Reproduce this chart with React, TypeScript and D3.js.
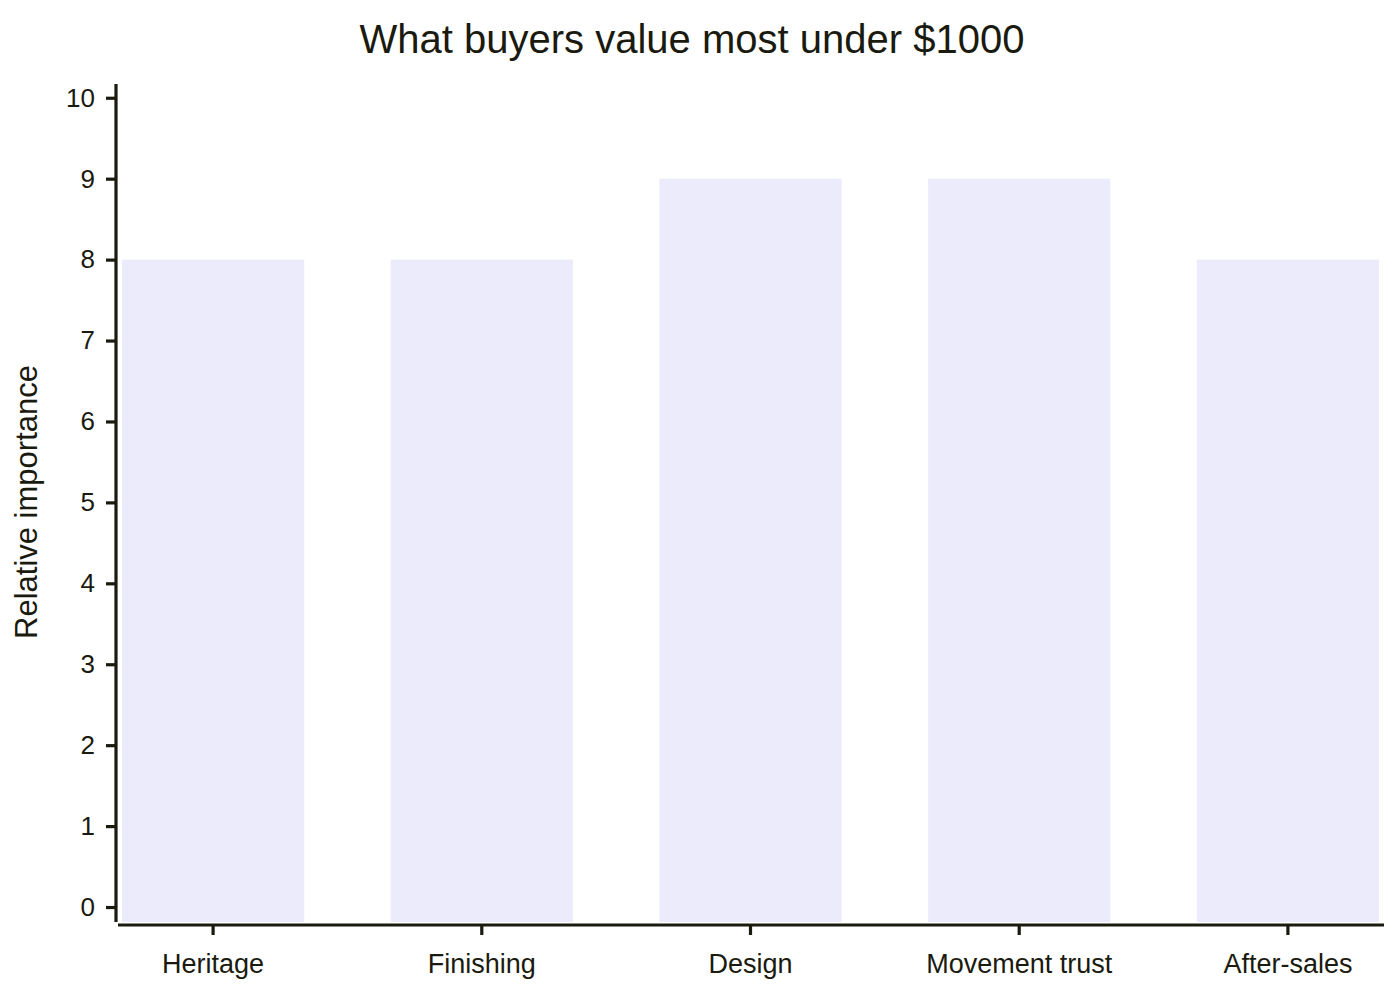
import { useRef, useEffect } from "react";
import * as d3 from "d3";

const categories = ["Heritage", "Finishing", "Design", "Movement trust", "After-sales"];
const importance = [8, 8, 9, 9, 8];
const yTicks = [0, 1, 2, 3, 4, 5, 6, 7, 8, 9, 10];

const INK = "#1a1a0f";
const BAR = "#ebebfb";
const FONT = "'Liberation Sans', Arial, sans-serif";

export default function App() {
  const svgRef = useRef<SVGSVGElement>(null);

  useEffect(() => {
    if (!svgRef.current) return;
    const width = 1400;
    const height = 1000;
    const svg = d3.select(svgRef.current).attr("width", width).attr("height", height);
    svg.selectAll("*").remove();

    // plot area
    const left = 122;
    const right = 1379;
    const top = 84;
    const bottom = 922;

    const x = d3
      .scaleBand<string>()
      .domain(categories)
      .range([left, right])
      .paddingInner(0.322)
      .paddingOuter(0);

    const y = d3.scaleLinear().domain([-0.185, 10.17]).range([bottom, top]);

    // bars
    svg
      .append("g")
      .selectAll("rect")
      .data(importance)
      .join("rect")
      .attr("x", (_, i) => x(categories[i]) || 0)
      .attr("width", x.bandwidth())
      .attr("y", (d) => y(d))
      .attr("height", (d) => bottom - y(d))
      .attr("fill", BAR);

    // y axis, offset to the left
    const yAxis = svg
      .append("g")
      .attr("transform", `translate(116,0)`)
      .call(d3.axisLeft(y).tickValues(yTicks).tickSize(10).tickPadding(11).tickFormat(d3.format("d")));
    yAxis.select(".domain").attr("d", `M0,${top}V${bottom}`);

    // x axis, offset downward
    const xAxis = svg
      .append("g")
      .attr("transform", `translate(0,925)`)
      .call(d3.axisBottom(x).tickSize(10).tickPadding(19));
    xAxis.select(".domain").attr("d", `M118,0H1384`);

    svg.selectAll(".domain").attr("stroke", INK).attr("stroke-width", 3.2);
    svg.selectAll(".tick line").attr("stroke", INK).attr("stroke-width", 3.2);
    yAxis.selectAll("text").attr("fill", INK).style("font-family", FONT).style("font-size", "26px");
    xAxis.selectAll("text").attr("fill", INK).style("font-family", FONT).style("font-size", "27px");

    // y label
    svg
      .append("text")
      .attr("transform", `translate(37,502) rotate(-90)`)
      .attr("text-anchor", "middle")
      .attr("fill", INK)
      .style("font-family", FONT)
      .style("font-size", "31px")
      .text("Relative importance");

    // title
    svg
      .append("text")
      .attr("x", 692)
      .attr("y", 53)
      .attr("text-anchor", "middle")
      .attr("fill", INK)
      .style("font-family", FONT)
      .style("font-size", "40px")
      .text("What buyers value most under $1000");
  }, []);

  return (
    <div style={{ position: "absolute", left: 0, top: 0, background: "#fff" }}>
      <svg ref={svgRef} style={{ display: "block" }} />
    </div>
  );
}
